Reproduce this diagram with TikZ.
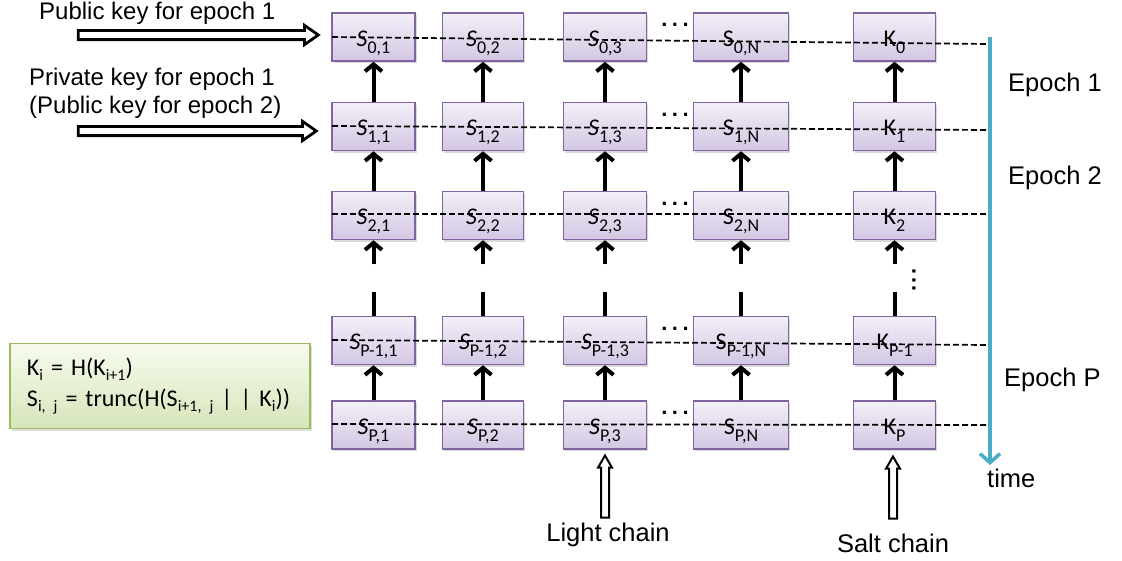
\documentclass[tikz,border=0pt]{standalone}
\usepackage{fontspec}
\setmainfont{Liberation Sans}
\newfontfamily\boxfont{Carlito}
\usetikzlibrary{arrows.meta,shapes.arrows,shadows}

\definecolor{boxline}{RGB}{128,100,162}
\definecolor{boxtop}{RGB}{243,239,248}
\definecolor{boxbot}{RGB}{211,199,227}
\definecolor{eqline}{RGB}{155,187,89}
\definecolor{eqtop}{RGB}{247,251,238}
\definecolor{eqbot}{RGB}{214,229,186}
\definecolor{timecol}{RGB}{75,172,198}

% lowered subscript, as set in the boxes
\newcommand{\lo}[1]{\raisebox{-7pt}{\fontsize{18}{18}\selectfont #1}}
\newcommand{\eqlo}[1]{\raisebox{-5pt}{\fontsize{16}{16}\selectfont #1}}

\tikzset{
  keybox/.style={draw=boxline, line width=1.5pt, top color=boxtop, bottom color=boxbot,
    minimum width=82pt, minimum height=48pt, inner sep=0pt, text height=18pt, text depth=0pt,
    font=\boxfont\fontsize{24}{24}\selectfont,
    drop shadow={opacity=0.3, shadow xshift=1.5pt, shadow yshift=-2pt}},
  eqbox/.style={draw=eqline, line width=1.5pt, top color=eqtop, bottom color=eqbot,
    minimum width=300pt, minimum height=85pt, text width=266pt, inner xsep=17pt, align=left,
    font=\boxfont\fontsize{24}{31}\selectfont,
    drop shadow={opacity=0.25, shadow xshift=1.5pt, shadow yshift=-2pt}},
  lbl/.style={font=\fontsize{24}{28}\selectfont, inner sep=0pt},
  biglbl/.style={font=\fontsize{25.5}{28}\selectfont, inner sep=0pt},
  chainarrow/.style={-{Straight Barb[length=7pt,width=17pt]}, line width=4pt},
  chainline/.style={line width=4pt},
  epochline/.style={dash pattern=on 6pt off 3pt, line width=1.7pt},
  timearrow/.style={timecol, line width=3.5pt, -{Straight Barb[length=9pt,width=20pt]}},
  keyarrow/.style={shape=single arrow, draw, line width=2.8pt, fill=white, inner xsep=0pt,
    inner ysep=3.2pt, single arrow head extend=5pt, single arrow tip angle=70},
  chainin/.style={shape=single arrow, draw, line width=2pt, fill=white, inner xsep=0pt,
    inner ysep=3pt, single arrow head extend=3pt, single arrow tip angle=60, rotate=90},
  hdots/.style={font=\bfseries\fontsize{22}{22}\selectfont, inner sep=0pt},
}

\begin{document}
\begin{tikzpicture}[x=1pt, y=-1pt]
  \useasboundingbox (0,0) rectangle (1122,560);

  % grid of seed and salt boxes
  \foreach \r/\ry/\rl in {0/37/0, 1/126.5/1, 2/215.5/2, 3/340.5/P-1, 4/425/P}{
    \foreach \c/\cx/\cl/\cw in {1/373.5/1/83, 2/483/2/81, 3/605/3/83, 4/741/N/95}{
      \node[keybox, minimum width=\cw pt] (s\r\c) at (\cx,\ry)
        {\ifnum\c<4 \itshape\fi S\lo{\upshape\rl,\cl}};
    }
    \node[keybox] (k\r) at (894.5,\ry) {K\lo{\rl}};
    \node[hdots] (dots\r) at (675,\ry-12) {.\kern4.5pt.\kern4.5pt.};
  }
  \node[hdots, rotate=90] (vdots) at (914,280) {.\kern2.5pt.\kern2.5pt.};

  % hash chains run upwards
  \foreach \c in {s01/s11, s02/s12, s03/s13, s04/s14, k0/k1,
                  s11/s21, s12/s22, s13/s23, s14/s24, k1/k2,
                  s31/s41, s32/s42, s33/s43, s34/s44, k3/k4}{
    \foreach \a/\b in \c { \draw[chainarrow] (\b) -- (\a); }
  }
  % broken links between row 2 and row P-1
  \foreach \n in {s21, s22, s23, s24, k2}{
    \path (\n.south) ++(0,24) coordinate (\n gap);
    \draw[chainarrow] (\n gap) -- (\n);
  }
  \foreach \n in {s31, s32, s33, s34, k3}{
    \path (\n.north) ++(0,-24) coordinate (\n gap);
    \draw[chainline] (\n) -- (\n gap);
  }

  % epoch boundaries
  \foreach \r/\a/\b in {0/37/44, 1/126/130, 2/214/214, 3/340/345, 4/424/425}{
    \coordinate (l\r) at (332,\a);
    \coordinate (e\r) at (988,\b);
    \draw[epochline] (l\r) -- (e\r);
  }

  % time axis
  \coordinate (ttop) at (990,37);
  \coordinate (tbot) at (990,465);
  \draw[timearrow] (ttop) -- (tbot);
  \node[biglbl, anchor=west] (time) at (987,478) {time};
  \node[biglbl, anchor=west] (ep1) at (1008,85) {Epoch 1};
  \node[biglbl, anchor=west] (ep2) at (1008,178) {Epoch 2};
  \node[biglbl, anchor=west] (epP) at (1004,380) {Epoch P};

  % keys handed out
  \node[lbl, anchor=west] (pub1) at (39,13) {Public key for epoch 1};
  \node[lbl, anchor=west, align=left] (priv1) at (29,93)
    {Private key for epoch 1\\(Public key for epoch 2)};
  \node[keyarrow, minimum height=240pt] (pa1) at (195,35) {};
  \node[keyarrow, minimum height=238pt] (pa2) at (194,131) {};

  % chain seeds
  \node[chainin, minimum height=62pt] (lca) at (605,490) {};
  \node[chainin, minimum height=62pt] (sca) at (893,491) {};
  \node[biglbl] (lc) at (608,535) {Light chain};
  \node[biglbl] (sc) at (893,543) {Salt chain};

  % update rules
  \node[eqbox] (eq) at (160,386)
    {K\eqlo{i} = H(K\eqlo{i+1})\\
     S\eqlo{i, j} = trunc(H(S\eqlo{i+1, j} | | K\eqlo{i}))};
\end{tikzpicture}
\end{document}
